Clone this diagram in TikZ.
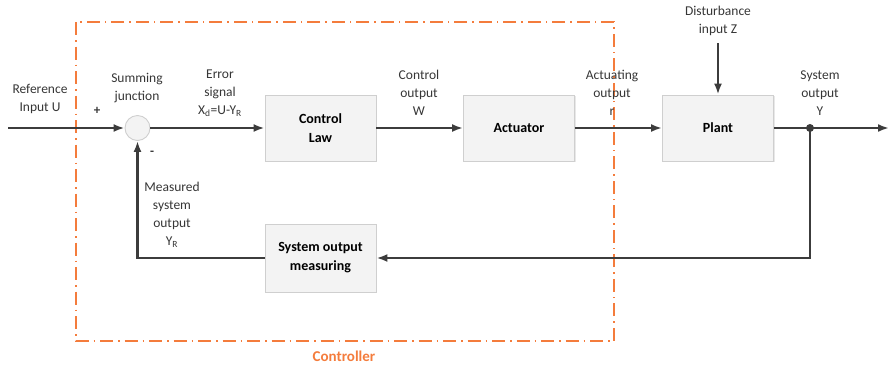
\documentclass[tikz,border=0pt]{standalone}
\usepackage{fontspec}
\setmainfont{Carlito}
\usetikzlibrary{arrows.meta,shadows}
\definecolor{ctrlorange}{HTML}{F47C3C}
\definecolor{linegray}{HTML}{3C3C3C}
\definecolor{boxfill}{HTML}{F3F3F3}
\definecolor{boxedge}{HTML}{CFCFCF}
\tikzset{
  blockbox/.style={draw=boxedge, fill=boxfill, line width=0.9pt, minimum width=111pt, minimum height=66pt,
    align=center, font=\fontsize{14}{19}\selectfont\bfseries,
    drop shadow={opacity=0.18, shadow xshift=1.2pt, shadow yshift=-1.2pt}},
  lbl/.style={align=center, font=\fontsize{13.5}{18}\selectfont, text=linegray!90!black, inner sep=0pt},
  arr/.style={draw=linegray, line width=2.1pt, -{Latex[length=11pt,width=8pt]}},
  ctrlbox/.style={draw=ctrlorange, line width=1.8pt, dash pattern=on 13pt off 5pt on 1.5pt off 5pt},
}
\begin{document}
\begin{tikzpicture}[x=1pt,y=-1pt]
\useasboundingbox (0,0) rectangle (889,368);
% controller frame
\draw[ctrlbox] (76,22) rectangle (614,341);
\node[font=\fontsize{15}{17}\selectfont\bfseries, text=ctrlorange] (ctrl) at (344,356) {Controller};
% blocks
\node[circle, draw=boxedge, fill=boxfill, line width=0.9pt, minimum size=25pt, inner sep=0pt] (sum) at (137.5,128) {};
\node[blockbox] (law) at (320.5,128) {Control\\Law};
\node[blockbox] (act) at (519,128) {Actuator};
\node[blockbox] (plant) at (718,128) {Plant};
\node[blockbox, minimum height=68pt] (meas) at (320.5,258) {System output\\measuring};
% coordinates
\coordinate (in) at (8,128);
\coordinate (out) at (889,128);
\coordinate (tap) at (810,128);
\coordinate (dist) at (718,43);
% labels
\node[lbl] (lref) at (40,99) {Reference\\Input U};
\node[lbl, font=\fontsize{13}{15}\selectfont\bfseries] (lplus) at (97,111) {+};
\node[lbl] (lsum) at (137,88) {Summing\\junction};
\node[lbl, font=\fontsize{13}{15}\selectfont\bfseries] (lminus) at (152,153) {-};
\node[lbl] (lerr) at (220,93) {Error\\signal\\X\textsubscript{d}=U-Y\textsubscript{R}};
\node[lbl] (lcout) at (419,93) {Control\\output\\W};
\node[lbl] (lact) at (612,93) {Actuating\\output\\r};
\node[lbl] (ldist) at (718,21) {Disturbance\\input Z};
\node[lbl] (lsys) at (820,93) {System\\output\\Y};
\node[lbl] (lmeas) at (172,215) {Measured\\system\\output\\Y\textsubscript{R}};
% connectors
\draw[arr] (in) -- (sum.west);
\draw[arr] (sum.east) -- (law.west);
\draw[arr] (law.east) -- (act.west);
\draw[arr] (act.east) -- (plant.west);
\draw[arr] (plant.east) -- (out);
\draw[arr] (dist) -- (plant.north);
\draw[arr] (tap) |- (meas.east);
\draw[arr] (meas.west) -| (sum.south);
\fill[linegray] (tap) circle (4pt);
\end{tikzpicture}
\end{document}
